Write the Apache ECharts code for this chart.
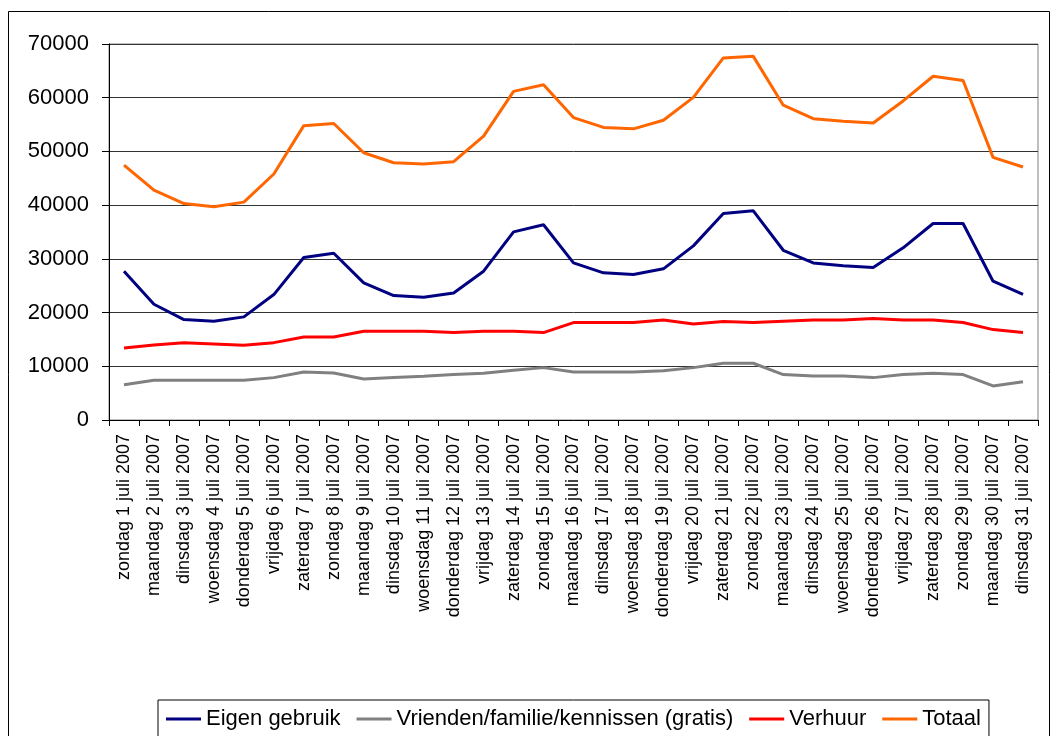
<!DOCTYPE html>
<html>
<head>
<meta charset="utf-8">
<style>
  html, body { margin: 0; padding: 0; background: #fff; }
  #chart { width: 1051px; height: 736px; }
</style>
<script src="https://cdn.jsdelivr.net/npm/echarts@6/dist/echarts.min.js"></script>
</head>
<body>
<div id="chart"></div>
<script>
// categories (July 2007)
const days = [
  'zondag 1 juli 2007', 'maandag 2 juli 2007', 'dinsdag 3 juli 2007', 'woensdag 4 juli 2007',
  'donderdag 5 juli 2007', 'vrijdag 6 juli 2007', 'zaterdag 7 juli 2007', 'zondag 8 juli 2007',
  'maandag 9 juli 2007', 'dinsdag 10 juli 2007', 'woensdag 11 juli 2007', 'donderdag 12 juli 2007',
  'vrijdag 13 juli 2007', 'zaterdag 14 juli 2007', 'zondag 15 juli 2007', 'maandag 16 juli 2007',
  'dinsdag 17 juli 2007', 'woensdag 18 juli 2007', 'donderdag 19 juli 2007', 'vrijdag 20 juli 2007',
  'zaterdag 21 juli 2007', 'zondag 22 juli 2007', 'maandag 23 juli 2007', 'dinsdag 24 juli 2007',
  'woensdag 25 juli 2007', 'donderdag 26 juli 2007', 'vrijdag 27 juli 2007', 'zaterdag 28 juli 2007',
  'zondag 29 juli 2007', 'maandag 30 juli 2007', 'dinsdag 31 juli 2007'
]

const eigenGebruik = [
  27700, 21550, 18700, 18400, 19200, 23350, 30250, 31050, 25530, 23170, 22860, 23660,
  27700, 35030, 36340, 29250, 27400, 27080, 28140, 32420, 38450, 38950, 31600, 29250,
  28700, 28400, 32050, 36580, 36580, 25840, 23400
]
const vrienden = [
  6580, 7390, 7390, 7390, 7390, 7890, 8940, 8760, 7640, 7890, 8140, 8450,
  8700, 9250, 9750, 8940, 8940, 8940, 9190, 9750, 10560, 10560, 8450, 8200,
  8200, 7890, 8450, 8700, 8450, 6340, 7140
]
const verhuur = [
  13400, 13970, 14400, 14160, 13900, 14400, 15470, 15470, 16520, 16520, 16520, 16270,
  16520, 16520, 16270, 18140, 18140, 18140, 18630, 17890, 18320, 18140, 18380, 18630,
  18630, 18880, 18630, 18630, 18140, 16830, 16270
]
const totaal = [
  47450, 42800, 40300, 39700, 40560, 45800, 54800, 55200, 49750, 47900, 47640, 48100,
  52860, 61180, 62420, 56300, 54470, 54200, 55800, 60060, 67400, 67700, 58600, 56100,
  55600, 55300, 59400, 64000, 63200, 48900, 47100
]

const seriesNames = ['Eigen gebruik', 'Vrienden/familie/kennissen (gratis)', 'Verhuur', 'Totaal']
const seriesColors = ['#000080', '#808080', '#ff0000', '#ff6600']
const seriesData = [eigenGebruik, vrienden, verhuur, totaal]

const font = '"Liberation Sans", Arial, sans-serif'

const chart = echarts.init(document.getElementById('chart'))
chart.setOption({
  animation: false,
  backgroundColor: '#fff',
  textStyle: { fontFamily: font, color: '#000' },
  graphic: [{
    type: 'rect',
    shape: { x: 8.5, y: 11.5, width: 1041, height: 800 },
    style: { fill: 'none', stroke: '#000', lineWidth: 1 },
    z: -1
  }],
  grid: {
    left: 109, right: 13, top: 44, bottom: 316,
    show: true, borderColor: '#808080', borderWidth: 1, backgroundColor: 'transparent'
  },
  legend: {
    left: 158, top: 700,
    data: seriesNames,
    icon: 'rect',
    itemWidth: 35, itemHeight: 3, itemGap: 16,
    padding: [8, 8, 20, 8],
    borderColor: '#000', borderWidth: 1,
    textStyle: { fontFamily: font, fontSize: 22, color: '#000' }
  },
  xAxis: {
    type: 'category',
    data: days,
    boundaryGap: true,
    axisLine: { lineStyle: { color: '#000', width: 1 } },
    axisTick: { show: true, length: 6, alignWithLabel: false, interval: 0, lineStyle: { color: '#000' } },
    axisLabel: { rotate: 90, interval: 0, margin: 14, fontSize: 18, fontFamily: font, color: '#000' },
    splitLine: { show: false }
  },
  yAxis: {
    type: 'value',
    min: 0, max: 70000, interval: 10000,
    axisLine: { show: true, lineStyle: { color: '#000', width: 1 } },
    axisTick: { show: true, length: 7, lineStyle: { color: '#000' } },
    axisLabel: { margin: 20, fontSize: 22, fontFamily: font, color: '#000', formatter: v => String(v) },
    splitLine: { show: true, lineStyle: { color: '#333', width: 1 } }
  },
  series: seriesNames.map((name, i) => ({
    name: name,
    type: 'line',
    data: seriesData[i],
    symbol: 'none',
    lineStyle: { color: seriesColors[i], width: 3 },
    itemStyle: { color: seriesColors[i] }
  }))
})
</script>
</body>
</html>
